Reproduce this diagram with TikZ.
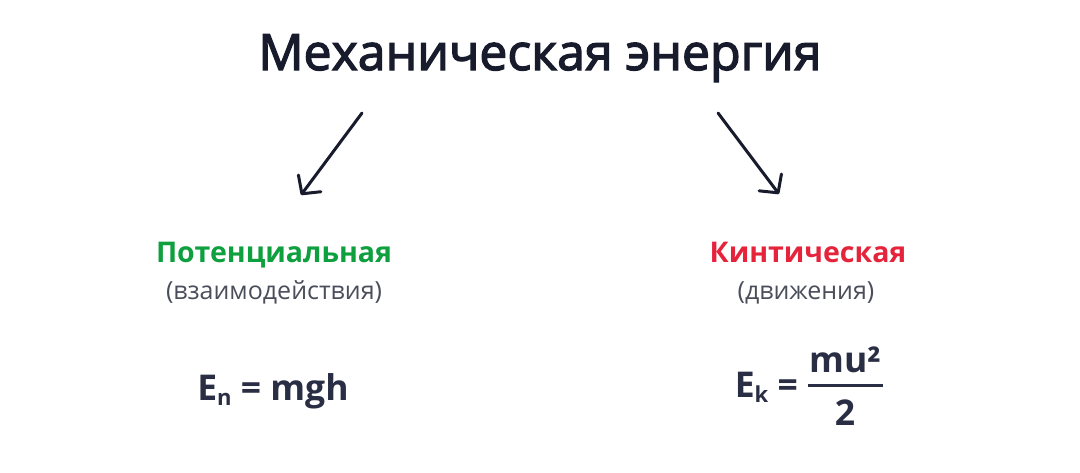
\documentclass[tikz,border=0pt]{standalone}
\usepackage{fontspec}
\setmainfont{Open Sans}
\usetikzlibrary{arrows.meta}
\definecolor{ink}{HTML}{171B2B}
\definecolor{fink}{HTML}{2A2E44}
\definecolor{pgreen}{HTML}{0E9F3E}
\definecolor{kred}{HTML}{E5243B}
\definecolor{subgray}{HTML}{4A4D5A}
\newcommand{\lowsub}[1]{{\fontsize{22}{22}\selectfont\raisebox{-5pt}{#1}}}
\newcommand{\embold}[1]{\special{pdf:literal q 2 Tr 1.3 w}#1\special{pdf:literal Q}}
\begin{document}
\begin{tikzpicture}[x=1pt,y=-1pt,
  titletext/.style={font=\fontsize{50}{54}\selectfont, text=ink, anchor=base, inner sep=0pt},
  headtext/.style={font=\bfseries\fontsize{28.5}{32}\selectfont, anchor=base, inner sep=0pt},
  subtext/.style={font=\fontsize{25}{28}\selectfont, text=subgray, anchor=base, inner sep=0pt},
  formtext/.style={font=\bfseries\fontsize{35.5}{38}\selectfont, text=fink, anchor=base, inner sep=0pt},
  arr/.style={draw=ink, line width=3pt, line cap=round, -{Straight Barb[length=13pt,width=28pt,round]}},
  fracline/.style={draw=fink, line width=3pt}]
\useasboundingbox (0,0) rectangle (1080,472);
\node[titletext] (title) at (540,70) {\embold{Механическая энергия}};
\coordinate (l1) at (362,113);
\coordinate (l2) at (301,195);
\coordinate (r1) at (718,113);
\coordinate (r2) at (779,194);
\draw[arr] (l1) -- (l2);
\draw[arr] (r1) -- (r2);
\node[headtext, text=pgreen] (pot) at (274,262) {Потенциальная};
\node[subtext] (potsub) at (274,299) {(взаимодействия)};
\node[formtext] (en) at (273,400) {E\lowsub{n} = mgh};
\node[headtext, text=kred] (kin) at (808,262) {Кинтическая};
\node[subtext] (kinsub) at (806,299) {(движения)};
\node[formtext, anchor=base east] (ek) at (798,397) {E\lowsub{k} =};
\node[formtext] (num) at (845,372) {mu²};
\node[formtext] (den) at (845,425) {2};
\coordinate (fl) at (808,385);
\coordinate (fr) at (883,385);
\draw[fracline] (fl) -- (fr);
\end{tikzpicture}
\end{document}
